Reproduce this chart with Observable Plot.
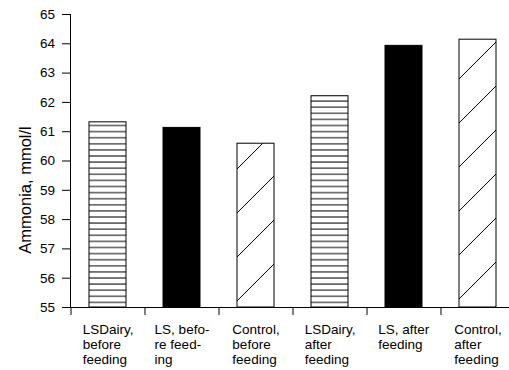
<!DOCTYPE html>
<html>
<head>
<meta charset="utf-8">
<script src="https://cdn.jsdelivr.net/npm/d3@7"></script>
<script src="https://cdn.jsdelivr.net/npm/@observablehq/plot@0.6"></script>
<style>
  html, body { margin: 0; padding: 0; background: #fff; overflow: hidden; }
  #chart svg { display: block; font-family: Arial, "Liberation Sans", sans-serif; }
</style>
</head>
<body>
<div id="chart"></div>
<script>
// ---- data ----
const categories = [
  "LSDairy,\nbefore\nfeeding",
  "LS, befo-\nre feed-\ning",
  "Control,\nbefore\nfeeding",
  "LSDairy,\nafter\nfeeding",
  "LS, after\nfeeding",
  "Control,\nafter\nfeeding"
];
const treatments = ["LSDairy", "LS", "Control", "LSDairy", "LS", "Control"];
const values = [61.32, 61.13, 60.59, 62.21, 63.93, 64.14];
const yTicks = [55, 56, 57, 58, 59, 60, 61, 62, 63, 64, 65];
const yLabel = "Ammonia, mmol/l";

const data = categories.map((c, i) => ({category: c, treatment: treatments[i], value: values[i]}));
const yDomain = [yTicks[0], yTicks[yTicks.length - 1]];

const fills = {LSDairy: "url(#hlines)", LS: "black", Control: "url(#diag)"};

const W = 509, H = 370, mL = 70, mR = -5, mT = 14, mB = 63;
const step = (W - mR - mL) / categories.length;

const bars = Object.keys(fills).map(t =>
  Plot.barY(data.filter(d => d.treatment === t), {
    x: "category", y1: () => yDomain[0], y2: "value",
    fill: fills[t], stroke: "black", strokeWidth: 1
  })
);

const chart = Plot.plot({
  width: W, height: H,
  marginLeft: mL, marginRight: mR, marginTop: mT, marginBottom: mB,
  style: {fontFamily: "Arial, 'Liberation Sans', sans-serif", background: "white", color: "black"},
  x: {domain: categories, paddingInner: 0.5, paddingOuter: 0.25, label: null},
  y: {domain: yDomain, label: null},
  marks: [
    ...bars,
    Plot.ruleY([yDomain[0]], {stroke: "black"}),
    Plot.frame({anchor: "left", stroke: "black"}),
    Plot.axisY({ticks: yTicks, tickSize: 8, tickPadding: 7.5, fontSize: 13.5, label: null}),
    // boundary ticks between categories
    Plot.axisX({tickSize: 8, text: null, dx: -step / 2, label: null}),
    // multi-line category labels
    Plot.axisX({tickSize: 0, tickPadding: 16, fontSize: 13.5, lineHeight: 1.1,
                textAnchor: "start", label: null}),
    Plot.text([yLabel], {frameAnchor: "left", rotate: -90, dx: -45, dy: 29,
                         fontSize: 16.5, lineAnchor: "middle", textAnchor: "middle"})
  ]
});

document.getElementById("chart").appendChild(chart);

// patterns
const svg = d3.select(chart);
const defs = svg.insert("defs", ":first-child");
const ph = defs.append("pattern").attr("id", "hlines")
  .attr("patternUnits", "userSpaceOnUse").attr("width", 10).attr("height", 6.1);
ph.append("rect").attr("width", 10).attr("height", 6.1).attr("fill", "white");
ph.append("line").attr("x1", 0).attr("x2", 10).attr("y1", 3.5).attr("y2", 3.5)
  .attr("stroke", "black").attr("stroke-width", 1);
const pd = defs.append("pattern").attr("id", "diag")
  .attr("patternUnits", "userSpaceOnUse").attr("width", 44).attr("height", 44)
  .attr("x", 10);
pd.append("rect").attr("width", 44).attr("height", 44).attr("fill", "white");
pd.append("line").attr("x1", -1).attr("y1", 45).attr("x2", 45).attr("y2", -1)
  .attr("stroke", "black").attr("stroke-width", 1);

// center each multi-line label block while keeping lines left-aligned
svg.selectAll("g[aria-label='x-axis tick label'] text").each(function() {
  const w = this.getBBox().width;
  d3.select(this).selectAll("tspan").attr("x", -w / 2);
  if (d3.select(this).selectAll("tspan").empty()) d3.select(this).attr("x", -w / 2);
});
</script>
</body>
</html>
